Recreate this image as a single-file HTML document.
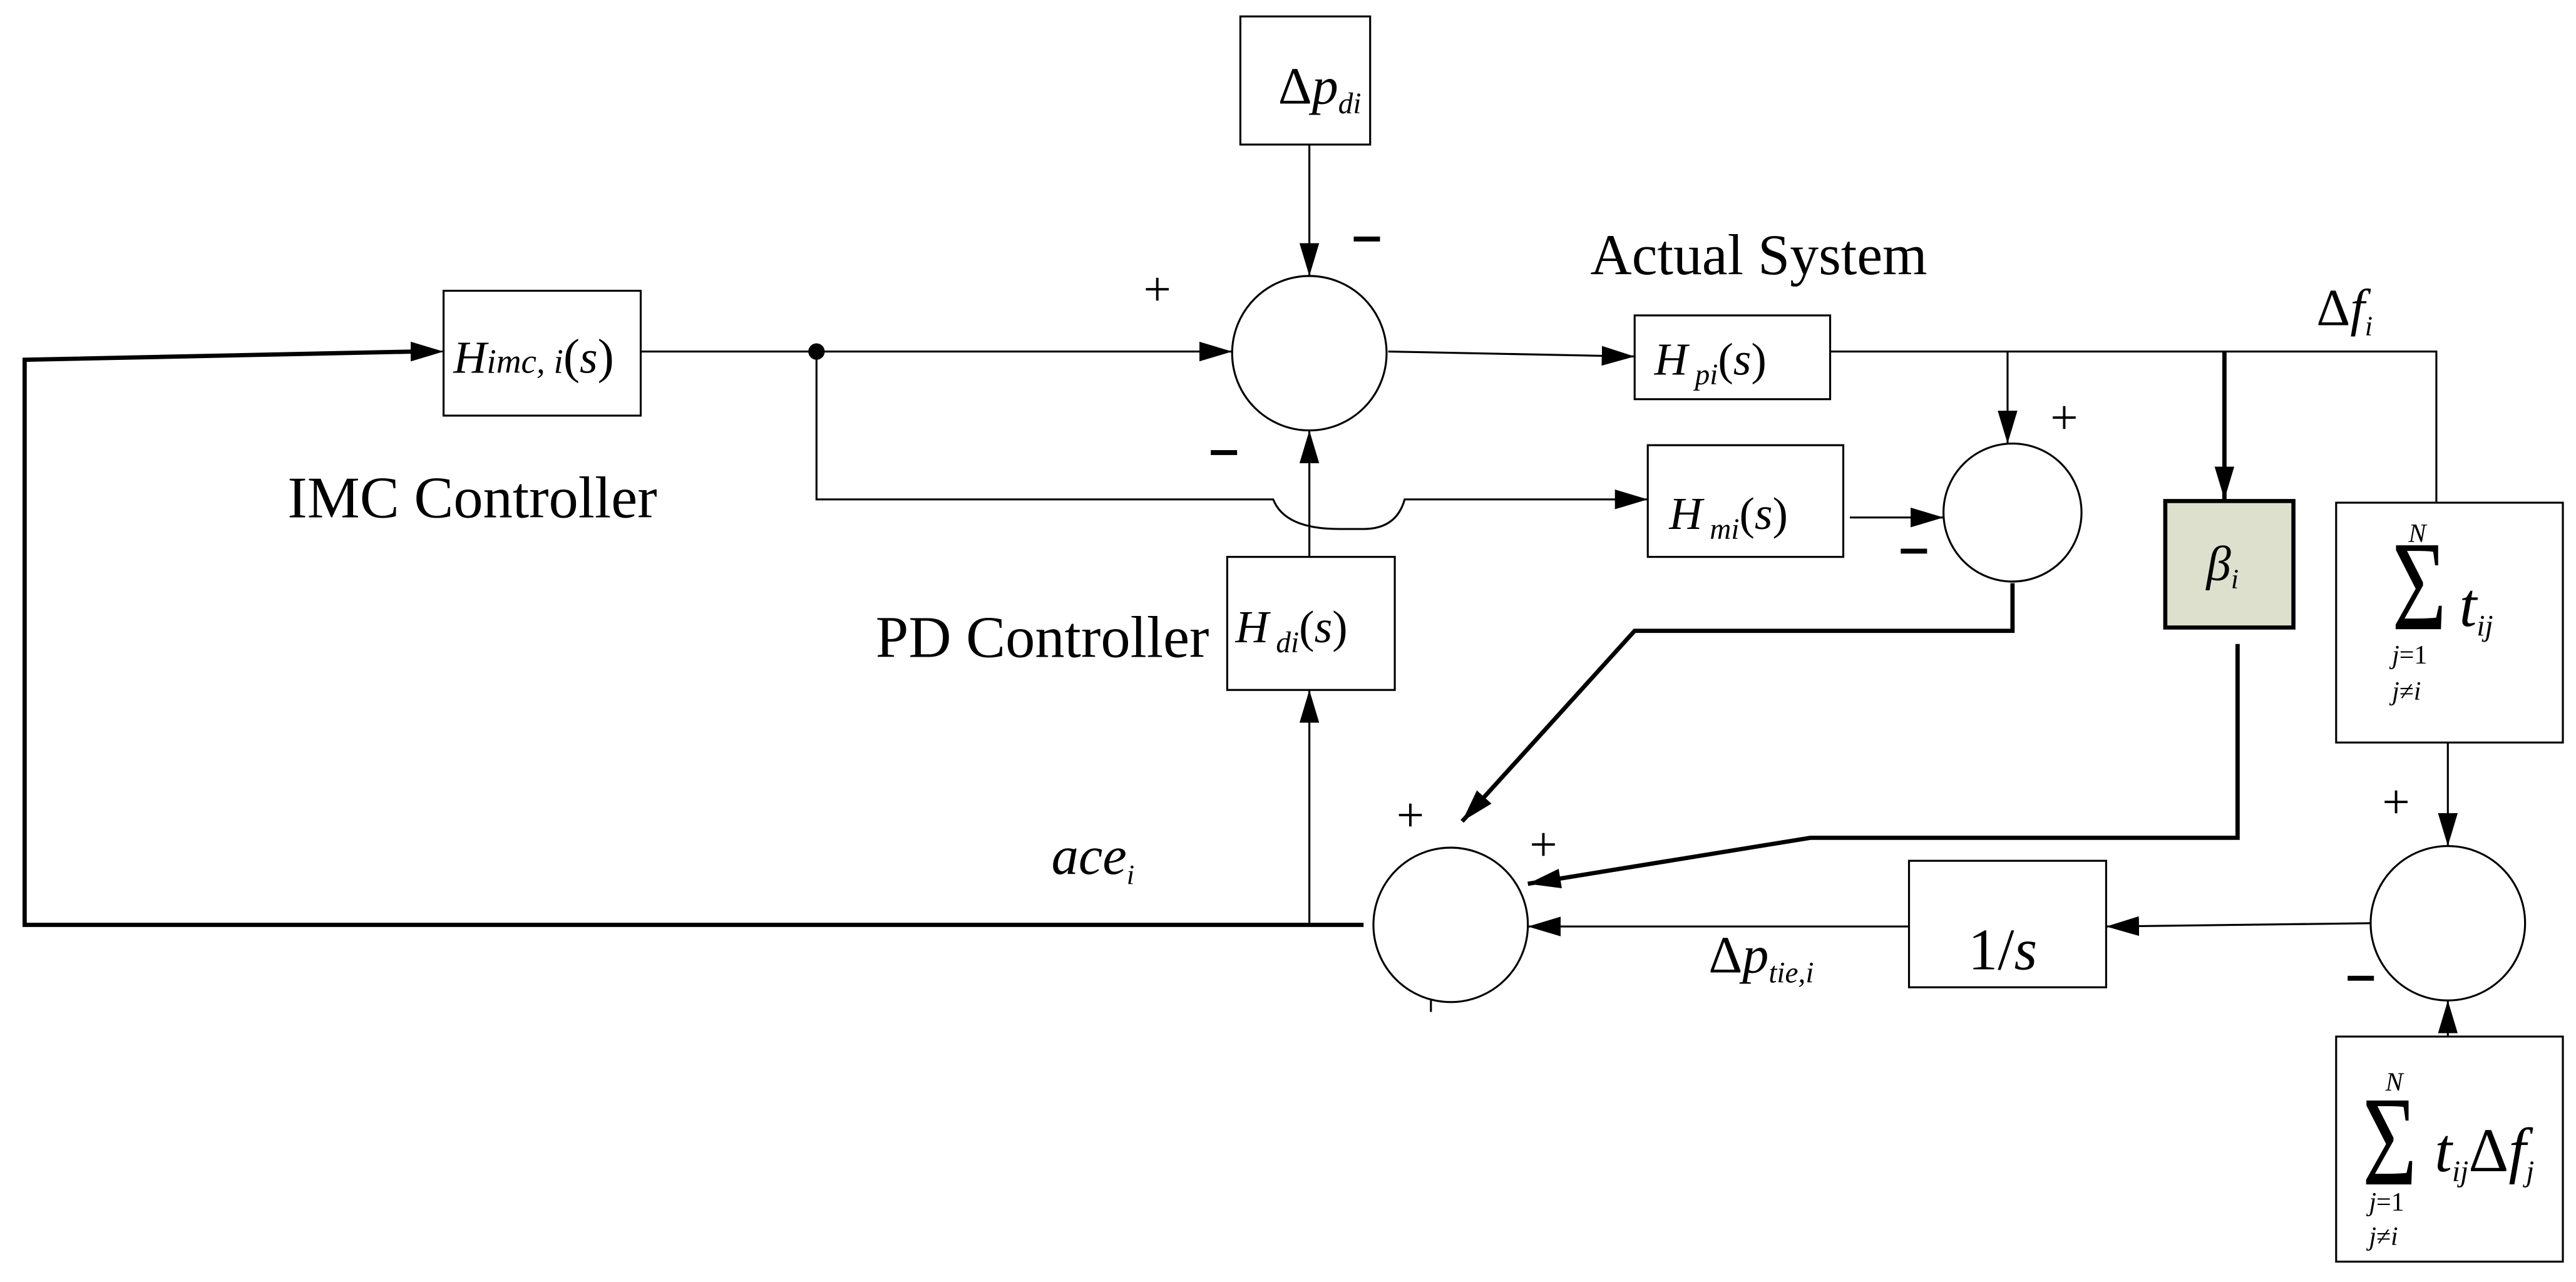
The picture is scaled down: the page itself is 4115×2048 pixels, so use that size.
<!DOCTYPE html>
<html><head><meta charset="utf-8"><style>html,body{margin:0;padding:0;background:#fff}svg{display:block}</style></head><body>
<svg width="4115" height="2048" viewBox="0 0 1568 780.4" preserveAspectRatio="none" xmlns="http://www.w3.org/2000/svg" font-family="Liberation Serif, serif">
<defs>
<marker id="b" markerWidth="20" markerHeight="12" refX="20" refY="6" orient="auto" markerUnits="userSpaceOnUse" viewBox="0 0 20 12"><path d="M0,0 L20,6 L0,12 Z" fill="#000"/></marker>
</defs>
<g fill="none" stroke="#000" stroke-width="1.2">
<rect x="755" y="10" width="79" height="78"/>
<rect x="270" y="177" width="120" height="76"/>
<rect x="995" y="192" width="119" height="51"/>
<rect x="1003" y="271" width="119" height="68"/>
<rect x="747" y="339" width="102" height="81"/>
<rect x="1422" y="306" width="138" height="146"/>
<rect x="1422" y="631" width="138" height="137"/>
<rect x="1162" y="524" width="120" height="77"/>
<rect x="1318" y="305" width="78" height="77" fill="#dde0cc" stroke-width="2.5"/>
<circle cx="797" cy="215" r="47"/>
<circle cx="1225" cy="312" r="42"/>
<circle cx="1490" cy="562" r="47"/>
<circle cx="883" cy="563" r="47"/>
<line x1="797" y1="88" x2="797" y2="168" marker-end="url(#b)"/>
<line x1="390" y1="214" x2="750" y2="214" marker-end="url(#b)"/>
<path d="M497,214 V304 H775 Q782,322 815,322 H830 Q850,322 855,304 H1003" marker-end="url(#b)"/>
<line x1="845" y1="214" x2="995" y2="217" marker-end="url(#b)"/>
<path d="M1114,214 H1483 V306"/>
<line x1="1222" y1="214" x2="1222" y2="270" marker-end="url(#b)"/>
<line x1="1126" y1="315" x2="1183" y2="315" marker-end="url(#b)"/>
<line x1="797" y1="339" x2="797" y2="262" marker-end="url(#b)"/>
<line x1="797" y1="563" x2="797" y2="420" marker-end="url(#b)"/>
<line x1="1490" y1="452" x2="1490" y2="515" marker-end="url(#b)"/>
<line x1="1490" y1="631" x2="1490" y2="609" marker-end="url(#b)"/>
<line x1="1443" y1="562" x2="1282" y2="564" marker-end="url(#b)"/>
<line x1="1162" y1="564" x2="930" y2="564" marker-end="url(#b)"/>
<line x1="871" y1="609" x2="871" y2="616"/>
</g>
<g fill="none" stroke="#000" stroke-width="2.6">
<path d="M830,563 H15 V219 L252,214" />
<line x1="250" y1="214" x2="270" y2="214" marker-end="url(#b)" stroke-width="1"/>
<line x1="1354" y1="214" x2="1354" y2="304" marker-end="url(#b)"/>
<path d="M1225,355 V384 H995 L890,500" marker-end="url(#b)"/>
<path d="M1362,392 V510 H1102 L930,538" marker-end="url(#b)"/>
</g>
<circle cx="497" cy="214" r="5" fill="#000"/>
<g fill="#000">
<text x="778" y="63" font-size="32"><tspan>Δ</tspan><tspan font-style="italic">p</tspan><tspan font-style="italic" font-size="18" dy="6">di</tspan></text>
<text x="276" y="227" font-size="28" font-style="italic">H<tspan font-size="21">imc, i</tspan><tspan font-style="normal" font-size="30">(</tspan>s<tspan font-style="normal" font-size="30">)</tspan></text>
<text x="1007" y="228" font-size="28" font-style="italic">H<tspan font-size="18" dy="6"> pi</tspan><tspan font-style="normal" dy="-6">(</tspan>s<tspan font-style="normal">)</tspan></text>
<text x="1016" y="322" font-size="28" font-style="italic">H<tspan font-size="18" dy="6"> mi</tspan><tspan font-style="normal" dy="-6">(</tspan>s<tspan font-style="normal">)</tspan></text>
<text x="752" y="391" font-size="28" font-style="italic">H<tspan font-size="18" dy="6"> di</tspan><tspan font-style="normal" dy="-6">(</tspan>s<tspan font-style="normal">)</tspan></text>
<text x="1343" y="353" font-size="30" font-style="italic">β<tspan font-size="17" dy="5">i</tspan></text>
<text x="1198" y="590" font-size="36"><tspan>1/</tspan><tspan font-style="italic">s</tspan></text>
<text x="1466" y="330" font-size="16" font-style="italic">N</text>
<text transform="translate(1456,383) scale(0.95,1.3)" font-size="60">Σ</text>
<text x="1497" y="381" font-size="38" font-style="italic">t<tspan font-size="18" dy="6">ij</tspan></text>
<text x="1456" y="404" font-size="16" font-style="italic">j<tspan font-style="normal">=1</tspan></text>
<text x="1456" y="426" font-size="16" font-style="italic">j<tspan font-style="normal">≠</tspan>i</text>
<text x="1452" y="664" font-size="16" font-style="italic">N</text>
<text transform="translate(1438,721) scale(0.95,1.3)" font-size="60">Σ</text>
<text x="1482" y="713" font-size="38" font-style="italic">t<tspan font-size="18" dy="6">ij</tspan><tspan font-style="normal" dy="-6">Δ</tspan>f<tspan font-size="18" dy="6">j</tspan></text>
<text x="1442" y="737" font-size="16" font-style="italic">j<tspan font-style="normal">=1</tspan></text>
<text x="1442" y="758" font-size="16" font-style="italic">j<tspan font-style="normal">≠</tspan>i</text>
<text x="968" y="167" font-size="35">Actual System</text>
<text x="1410" y="198" font-size="32"><tspan>Δ</tspan><tspan font-style="italic">f</tspan><tspan font-style="italic" font-size="17" dy="6">i</tspan></text>
<text x="175" y="315" font-size="36">IMC Controller</text>
<text x="533" y="400" font-size="36">PD Controller</text>
<text x="640" y="532" font-size="33" font-style="italic">ace<tspan font-size="17" dy="6">i</tspan></text>
<text x="1040" y="592" font-size="32"><tspan>Δ</tspan><tspan font-style="italic">p</tspan><tspan font-style="italic" font-size="18" dy="6">tie,i</tspan></text>
<g font-size="30">
<text x="696" y="186">+</text>
<text x="1248" y="264">+</text>
<text x="850" y="506">+</text>
<text x="931" y="524">+</text>
<text x="1450" y="498">+</text>
</g>
<rect x="824" y="144" width="16" height="3"/>
<rect x="737" y="274" width="16" height="3"/>
<rect x="1157" y="334" width="16" height="3"/>
<rect x="1429" y="594" width="16" height="3"/>
</g>
</svg>
</body></html>
